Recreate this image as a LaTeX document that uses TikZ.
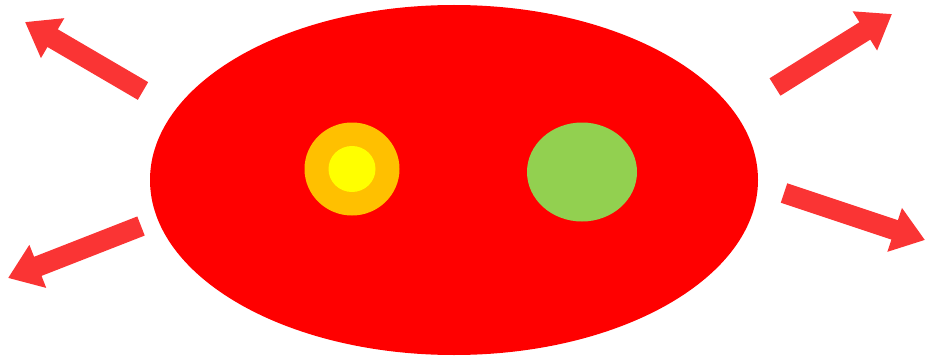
\documentclass[tikz,border=0pt]{standalone}
\usepackage{xcolor}
\usetikzlibrary{arrows.meta,shapes.geometric}

\definecolor{bodyred}{RGB}{255,0,0}
\definecolor{rayred}{RGB}{250,52,52}
\definecolor{eyeorange}{RGB}{255,192,0}
\definecolor{eyeyellow}{RGB}{255,255,0}
\definecolor{eyegreen}{RGB}{146,208,80}

\begin{document}
\begin{tikzpicture}[
  x=1pt, y=-1pt,
  blob/.style={ellipse, fill=#1, inner sep=0pt, outer sep=0pt},
  ray/.style={draw=rayred, line width=20.5pt, -{Triangle[length=32pt, width=44pt]}},
]
\useasboundingbox (0,0) rectangle (927,361);

%% ── Body ────────────────────────────────────────────────────────────────
\node[blob=bodyred, minimum width=608pt, minimum height=350pt] (body) at (454,180) {};

%% ── Eyes ────────────────────────────────────────────────────────────────
\node[blob=eyeorange, minimum width=95pt, minimum height=93pt]  (eyeL)  at (352,169) {};
\node[blob=eyeyellow, minimum width=47pt, minimum height=46pt]  (pupil) at (352,169) {};
\node[blob=eyegreen,  minimum width=110pt, minimum height=99pt] (eyeR)  at (582,172) {};

%% ── Rays ────────────────────────────────────────────────────────────────
\coordinate (tlA) at (143,91);  \coordinate (tlB) at (25,22);
\coordinate (blA) at (141,226); \coordinate (blB) at (8,278);
\coordinate (trA) at (775,87);  \coordinate (trB) at (892,14);
\coordinate (brA) at (784,193); \coordinate (brB) at (925,240);

\draw[ray] (tlA) -- (tlB);
\draw[ray] (blA) -- (blB);
\draw[ray] (trA) -- (trB);
\draw[ray] (brA) -- (brB);
\end{tikzpicture}
\end{document}
